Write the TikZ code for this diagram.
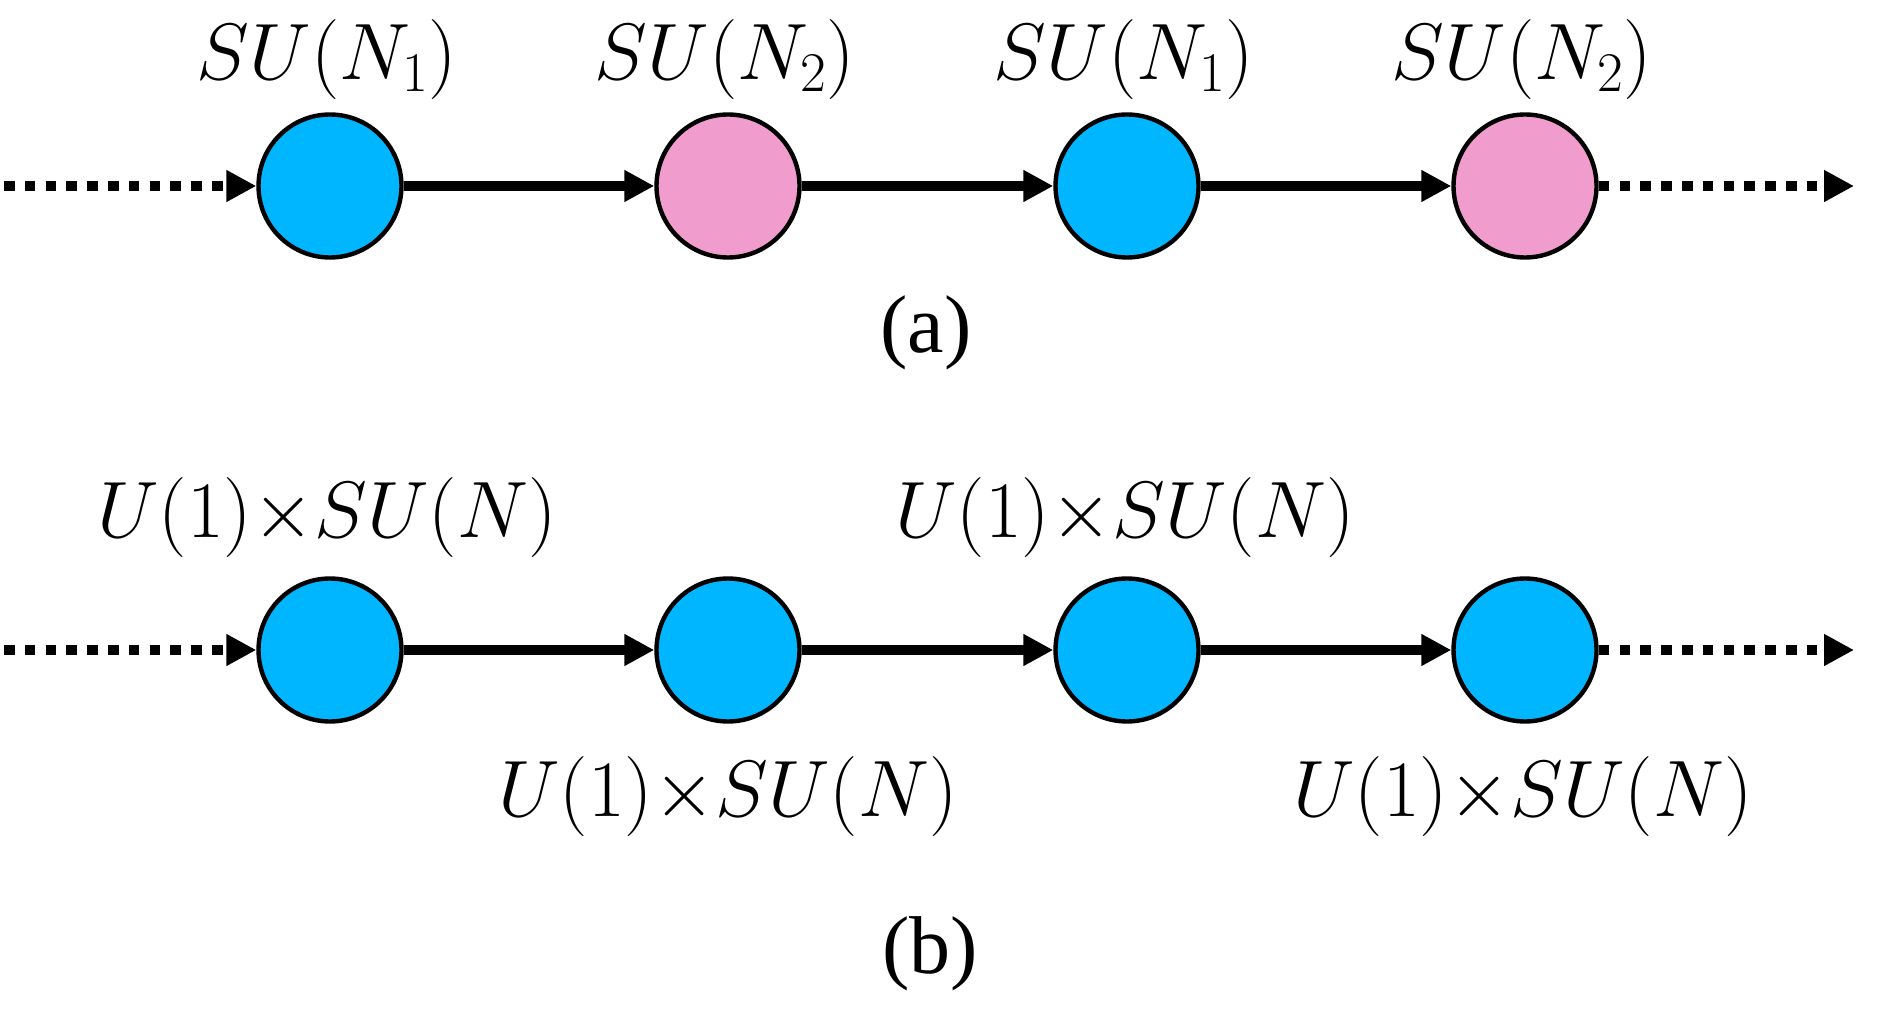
\documentclass[tikz,border=0pt]{standalone}
\usepackage{fix-cm}
\usepackage{fontspec}
\usetikzlibrary{arrows.meta}
\newfontfamily\capfont{Liberation Serif}
\definecolor{nodeblue}{HTML}{00B7FF}
\definecolor{nodepink}{HTML}{F09DCD}
\begin{document}
\begin{tikzpicture}[x=0.5pt,y=-0.5pt,
  grp/.style={circle,draw=black,line width=2.2pt,minimum size=71.5pt,inner sep=0pt},
  bluegrp/.style={grp,fill=nodeblue},
  pinkgrp/.style={grp,fill=nodepink},
  link/.style={line width=5pt,-{Triangle[length=15pt,width=15pt]}},
  dotlink/.style={link,dash pattern=on 5.3pt off 5.1pt},
  lab/.style={inner sep=0pt,font=\fontsize{40}{48}\selectfont},
  captext/.style={inner sep=0pt,font=\capfont\fontsize{41}{49}\selectfont}]
\useasboundingbox (0,0) rectangle (1883,1031);
% row (a)
\node[bluegrp] (a1) at (330,186) {};
\node[pinkgrp] (a2) at (728,186) {};
\node[bluegrp] (a3) at (1127,186) {};
\node[pinkgrp] (a4) at (1525,186) {};
\coordinate (aL) at (4,186);
\coordinate (aR) at (1854,186);
\draw[dotlink] (aL) -- (a1);
\draw[link] (a1) -- (a2);
\draw[link] (a2) -- (a3);
\draw[link] (a3) -- (a4);
\draw[dotlink] (a4) -- (aR);
\node[lab] (la1) at (327,60) {$SU(N_1)$};
\node[lab] (la2) at (725,60) {$SU(N_2)$};
\node[lab] (la3) at (1124,60) {$SU(N_1)$};
\node[lab] (la4) at (1522,60) {$SU(N_2)$};
\node[captext] (capa) at (926,333) {(a)};
% row (b)
\node[bluegrp] (b1) at (330,650) {};
\node[bluegrp] (b2) at (728,650) {};
\node[bluegrp] (b3) at (1127,650) {};
\node[bluegrp] (b4) at (1525,650) {};
\coordinate (bL) at (4,650);
\coordinate (bR) at (1854,650);
\draw[dotlink] (bL) -- (b1);
\draw[link] (b1) -- (b2);
\draw[link] (b2) -- (b3);
\draw[link] (b3) -- (b4);
\draw[dotlink] (b4) -- (bR);
\node[lab] (lb1) at (327,518) {$U(1){\times}SU(N)$};
\node[lab] (lb2) at (728,796) {$U(1){\times}SU(N)$};
\node[lab] (lb3) at (1125,518) {$U(1){\times}SU(N)$};
\node[lab] (lb4) at (1523,796) {$U(1){\times}SU(N)$};
\node[captext] (capb) at (930,954) {(b)};
\end{tikzpicture}
\end{document}
